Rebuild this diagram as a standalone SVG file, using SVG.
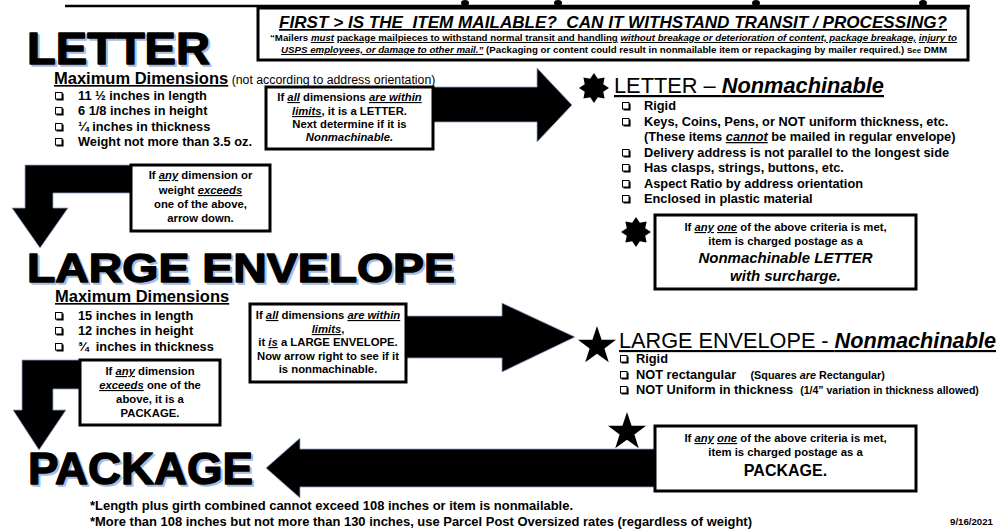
<svg xmlns="http://www.w3.org/2000/svg" xmlns:xlink="http://www.w3.org/1999/xlink" width="1000" height="529" viewBox="0 0 1000 529">
<style>
text{font-family:"Liberation Sans",Arial,sans-serif;fill:#000}
.big{font-weight:bold;stroke:#000;stroke-width:1.4;stroke-linejoin:round}
.bigsh{font-weight:bold;fill:#a9bcdf;stroke:#a9bcdf;stroke-width:1.4;stroke-linejoin:round}
.hd{font-weight:bold;font-size:16.5px;text-decoration:underline}
.li{font-weight:bold;font-size:12.8px}
.bx{font-weight:bold;font-size:11.3px}
.box{fill:#fff;stroke:#000;stroke-width:3}
.arr{fill:#000;stroke:#8fa6cc;stroke-width:0.8}
.u{text-decoration:underline}
.i{font-style:italic}
</style>
<defs>
<symbol id="cb" viewBox="0 0 9 9" width="9" height="9" overflow="visible">
<rect x="0.5" y="0.5" width="6.5" height="6.5" fill="none" stroke="#000" stroke-width="1"/>
<path d="M7 1.5 H8.6 V8.6 H1.5 V7 H7 Z" fill="#000"/>
</symbol>
<polygon id="star8" points="0,-15 3.83,-9.24 10.61,-10.61 9.24,-3.83 15,0 9.24,3.83 10.61,10.61 3.83,9.24 0,15 -3.83,9.24 -10.61,10.61 -9.24,3.83 -15,0 -9.24,-3.83 -10.61,-10.61 -3.83,-9.24"/>
<polygon id="star5" points="0,-20 4.58,-6.31 19.02,-6.18 7.42,2.41 11.76,16.18 0,7.8 -11.76,16.18 -7.42,2.41 -19.02,-6.18 -4.58,-6.31"/>
</defs>
<rect width="1000" height="529" fill="#fff"/>

<g id="header-line">
<line x1="65" y1="6" x2="970" y2="6" stroke="#000" stroke-width="2.5"/>
<ellipse cx="465" cy="3" rx="4" ry="3"/>
<ellipse cx="558" cy="3" rx="4" ry="3"/>
<ellipse cx="756" cy="3" rx="4" ry="3"/>
<ellipse cx="923" cy="3" rx="4" ry="3"/>
</g>

<g id="connectors">
<polygon class="arr" points="420,87 537,87 537,68 572,105 537,142 537,122 420,122"/>
<polygon class="arr" points="25,165 140,165 140,193 53,193 53,208 68,208 40,248 12,208 25,208"/>
<polygon class="arr" points="22,360 90,360 90,389 53,389 53,410 66,410 39,450 13,410 22,410"/>
<polygon class="arr" points="400,316 502,316 502,303 575,337 502,372 502,358 400,358"/>
<polygon class="arr" points="665,449 300,449 300,438 266,468 300,498 300,487 665,487"/>
</g>

<g id="mailable-box">
<rect class="box" x="258" y="8" width="710" height="52"/>
<text xml:space="preserve" x="613" y="28" text-anchor="middle" font-size="17" font-weight="bold" font-style="italic" text-decoration="underline" textLength="668" lengthAdjust="spacingAndGlyphs">FIRST &gt; IS THE  ITEM MAILABLE?  CAN IT WITHSTAND TRANSIT / PROCESSING?</text>
<text x="270" y="41" font-size="9.8" font-weight="bold" textLength="687" lengthAdjust="spacingAndGlyphs">“Mailers <tspan class="u i">must</tspan> <tspan class="u">package mailpieces to withstand normal transit and handling</tspan> <tspan class="u i">without breakage or deterioration of content, package breakage,</tspan> <tspan class="u i">injury to</tspan></text>
<text x="281" y="53" font-size="9.8" font-weight="bold" textLength="666" lengthAdjust="spacingAndGlyphs"><tspan class="u i">USPS employees, or damage to other mail.”</tspan> (Packaging or content could result in nonmailable item or repackaging by mailer required.) <tspan font-size="8">See</tspan> DMM</text>
</g>

<g id="letter">
<text class="bigsh" x="29" y="66" font-size="44" textLength="183" lengthAdjust="spacingAndGlyphs">LETTER</text>
<text class="big" x="27" y="64" font-size="44" textLength="183" lengthAdjust="spacingAndGlyphs">LETTER</text>
<text x="54" y="84"><tspan class="hd">Maximum Dimensions</tspan><tspan font-size="12.3"> (not according to address orientation)</tspan></text>
<use xlink:href="#cb" x="55" y="92"/>
<text class="li" x="78" y="100">11 ½ inches in length</text>
<use xlink:href="#cb" x="55" y="107"/>
<text class="li" x="78" y="115">6 1/8 inches in height</text>
<use xlink:href="#cb" x="55" y="123"/>
<text class="li" x="78" y="131">¼ inches in thickness</text>
<use xlink:href="#cb" x="55" y="138"/>
<text class="li" x="78" y="146">Weight not more than 3.5 oz.</text>
</g>

<g id="letter-within">
<rect class="box" x="266" y="87" width="167" height="62"/>
<text class="bx" x="349.5" y="101" text-anchor="middle">If <tspan class="u i">all</tspan> dimensions <tspan class="u i">are within</tspan></text>
<text class="bx" x="349.5" y="115" text-anchor="middle"><tspan class="u i">limits</tspan>, it is a LETTER.</text>
<text class="bx" x="349.5" y="128" text-anchor="middle">Next determine if it is</text>
<text class="bx" x="349.5" y="141" text-anchor="middle" font-style="italic">Nonmachinable.</text>
</g>

<g id="letter-exceeds">
<rect class="box" x="131" y="165" width="139" height="66"/>
<text class="bx" x="200.5" y="179" text-anchor="middle">If <tspan class="u i">any</tspan> dimension or</text>
<text class="bx" x="200.5" y="194" text-anchor="middle">weight <tspan class="u i">exceeds</tspan></text>
<text class="bx" x="200.5" y="208" text-anchor="middle">one of the above,</text>
<text class="bx" x="200.5" y="222" text-anchor="middle">arrow down.</text>
</g>

<g id="letter-nonmachinable">
<use xlink:href="#star8" x="594" y="88"/>
<text x="614" y="93" font-size="22" text-decoration="underline" textLength="270" lengthAdjust="spacingAndGlyphs">LETTER – <tspan font-weight="bold" font-style="italic">Nonmachinable</tspan></text>
<use xlink:href="#cb" x="622" y="102"/>
<text class="li" x="644" y="110">Rigid</text>
<use xlink:href="#cb" x="622" y="118"/>
<text class="li" x="644" y="126">Keys, Coins, Pens, or NOT uniform thickness, etc.</text>
<text class="li" x="644" y="141">(These items <tspan class="u i">cannot</tspan> be mailed in regular envelope)</text>
<use xlink:href="#cb" x="622" y="149"/>
<text class="li" x="644" y="157">Delivery address is not parallel to the longest side</text>
<use xlink:href="#cb" x="622" y="164"/>
<text class="li" x="644" y="172">Has clasps, strings, buttons, etc.</text>
<use xlink:href="#cb" x="622" y="180"/>
<text class="li" x="644" y="188">Aspect Ratio by address orientation</text>
<use xlink:href="#cb" x="622" y="195"/>
<text class="li" x="644" y="203">Enclosed in plastic material</text>
</g>

<g id="letter-surcharge">
<use xlink:href="#star8" x="636" y="232"/>
<rect class="box" x="655" y="215" width="261" height="74"/>
<text class="bx" x="785.5" y="231" text-anchor="middle" font-size="12">If <tspan class="u i">any</tspan> <tspan class="u i">one</tspan> of the above criteria is met,</text>
<text class="bx" x="785.5" y="245" text-anchor="middle" font-size="12">item is charged postage as a</text>
<text x="785.5" y="263" text-anchor="middle" font-size="15" font-weight="bold" font-style="italic">Nonmachinable LETTER</text>
<text x="785.5" y="281" text-anchor="middle" font-size="15" font-weight="bold" font-style="italic">with surcharge.</text>
</g>

<g id="large-envelope">
<text class="bigsh" x="29" y="284" font-size="40" textLength="428" lengthAdjust="spacingAndGlyphs">LARGE ENVELOPE</text>
<text class="big" x="27" y="282" font-size="40" textLength="428" lengthAdjust="spacingAndGlyphs">LARGE ENVELOPE</text>
<text class="hd" x="55" y="302">Maximum Dimensions</text>
<use xlink:href="#cb" x="55" y="312"/>
<text class="li" x="78" y="320">15 inches in length</text>
<use xlink:href="#cb" x="55" y="327"/>
<text class="li" x="78" y="335">12 inches in height</text>
<use xlink:href="#cb" x="55" y="343"/>
<text class="li" x="78" y="351" xml:space="preserve">¾  inches in thickness</text>
</g>

<g id="le-within">
<rect class="box" x="250" y="304" width="156" height="78"/>
<text class="bx" x="328" y="319" text-anchor="middle">If <tspan class="u i">all</tspan> dimensions <tspan class="u i">are within</tspan></text>
<text class="bx" x="328" y="333" text-anchor="middle"><tspan class="u i">limits</tspan>,</text>
<text class="bx" x="328" y="346" text-anchor="middle">it <tspan class="u i">is</tspan> a LARGE ENVELOPE.</text>
<text class="bx" x="328" y="360" text-anchor="middle">Now arrow right to see if it</text>
<text class="bx" x="328" y="373" text-anchor="middle">is nonmachinable.</text>
</g>

<g id="le-exceeds">
<rect class="box" x="80" y="360" width="140" height="65"/>
<text class="bx" x="150" y="375" text-anchor="middle">If <tspan class="u i">any</tspan> dimension</text>
<text class="bx" x="150" y="389" text-anchor="middle"><tspan class="u i">exceeds</tspan> one of the</text>
<text class="bx" x="150" y="403" text-anchor="middle">above, it is a</text>
<text class="bx" x="150" y="417" text-anchor="middle">PACKAGE.</text>
</g>

<g id="le-nonmachinable">
<use xlink:href="#star5" x="597" y="346"/>
<text x="619" y="348" font-size="21.5" text-decoration="underline" textLength="377" lengthAdjust="spacingAndGlyphs">LARGE ENVELOPE - <tspan font-weight="bold" font-style="italic">Nonmachinable</tspan></text>
<use xlink:href="#cb" x="620" y="355"/>
<text class="li" x="636" y="363">Rigid</text>
<use xlink:href="#cb" x="620" y="371"/>
<text class="li" x="636" y="379" xml:space="preserve">NOT rectangular    <tspan font-size="10.8">(Squares <tspan class="i">are</tspan> Rectangular)</tspan></text>
<use xlink:href="#cb" x="620" y="386"/>
<text class="li" x="636" y="394" xml:space="preserve">NOT Uniform in thickness  <tspan font-size="10.5">(1/4” variation in thickness allowed)</tspan></text>
</g>

<g id="le-package">
<use xlink:href="#star5" x="627" y="432"/>
<rect class="box" x="655" y="426" width="261" height="65"/>
<text class="bx" x="785.5" y="442" text-anchor="middle" font-size="11.5">If <tspan class="u i">any</tspan> <tspan class="u i">one</tspan> of the above criteria is met,</text>
<text class="bx" x="785.5" y="456" text-anchor="middle" font-size="11.5">item is charged postage as a</text>
<text x="785.5" y="476" text-anchor="middle" font-size="16" font-weight="bold">PACKAGE.</text>
</g>

<g id="package">
<text class="bigsh" x="30" y="486" font-size="44" textLength="225" lengthAdjust="spacingAndGlyphs">PACKAGE</text>
<text class="big" x="28" y="484" font-size="44" textLength="225" lengthAdjust="spacingAndGlyphs">PACKAGE</text>
<text x="90" y="510" font-size="12" font-weight="bold" textLength="483" lengthAdjust="spacingAndGlyphs">*Length plus girth combined cannot exceed 108 inches or item is nonmailable.</text>
<text x="90" y="526" font-size="12" font-weight="bold" textLength="662" lengthAdjust="spacingAndGlyphs">*More than 108 inches but not more than 130 inches, use Parcel Post Oversized rates (regardless of weight)</text>
<text x="950" y="525" font-size="9.5" font-weight="bold" textLength="43" lengthAdjust="spacingAndGlyphs">9/16/2021</text>
</g>
</svg>
